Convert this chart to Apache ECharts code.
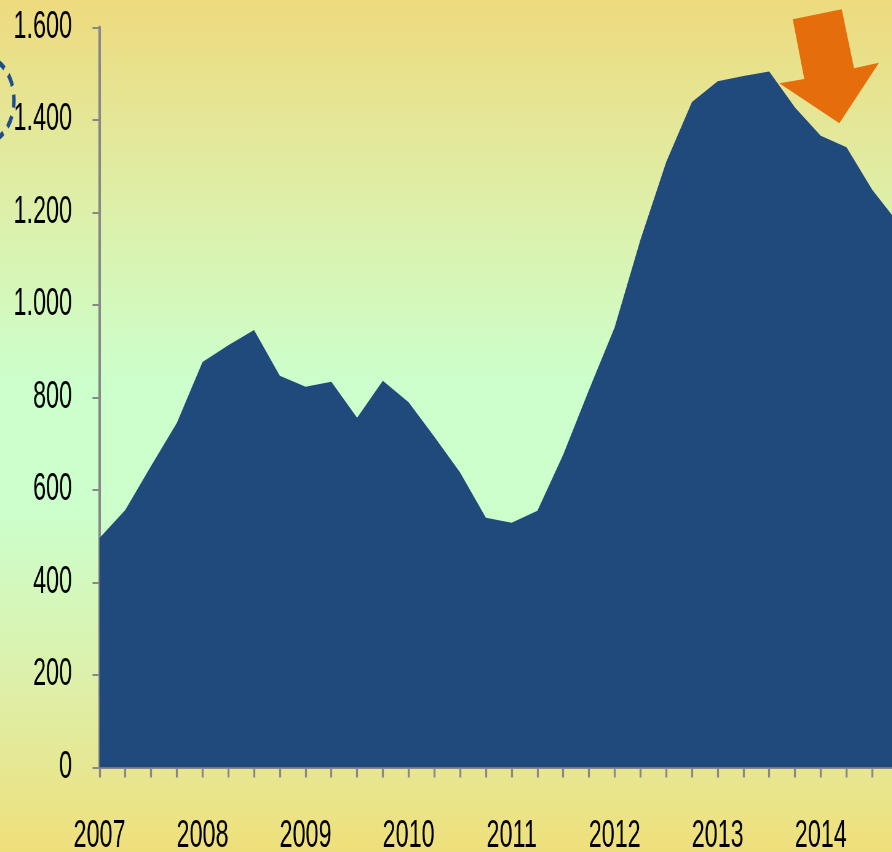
<!DOCTYPE html>
<html>
<head>
<meta charset="utf-8">
<script src="https://cdn.jsdelivr.net/npm/echarts@6/dist/echarts.min.js"></script>
<style>
html,body{margin:0;padding:0;width:892px;height:852px;overflow:hidden;}
body{background:linear-gradient(to bottom,#EEDA7E 0%,#DDF0AA 25%,#CCFFCC 45%,#CCFFCC 60%,#DDF0AA 80%,#EFDF7A 100%);}
/* the original chart uses a tall, narrow typeface: draw wider and squeeze horizontally */
#c{width:1451px;height:852px;transform:scaleX(0.615);transform-origin:0 0;}
</style>
</head>
<body>
<div id="c"></div>
<script>
// Quarterly categories 2007 Q1 .. 2014 Q4
var years = ['2007','2008','2009','2010','2011','2012','2013','2014'];
var quarters = [];
years.forEach(function(y){ for (var q=1;q<=4;q++) quarters.push(y+' T'+q); });
var values = [496,557,652,745,877,913,946,847,823,834,756,836,790,715,638,540,
              529,555,676,816,952,1141,1309,1439,1484,1495,1505,1427,1366,1341,1249,1178];
var yTicks = [0,200,400,600,800,1000,1200,1400,1600];

var SX = 0.615; // horizontal squeeze applied by CSS
var chart = echarts.init(document.getElementById('c'), null, {renderer:'canvas'});
var fontFam = '"Liberation Sans",Arial,sans-serif';
chart.setOption({
  backgroundColor: 'transparent',
  animation: false,
  grid: {left: 99.5/SX, top: 27.5, width: 798.5/SX, height: 740, containLabel: false, outerBoundsMode: 'none'},
  xAxis: {
    type: 'category',
    data: quarters,
    boundaryGap: false,
    axisLine: {lineStyle: {color: '#888888', width: 3}},
    axisTick: {show: true, interval: 0, length: 10, lineStyle: {color: '#888888', width: 2/SX}},
    axisLabel: {
      interval: 0, margin: 50, color: '#000', fontSize: 38, fontFamily: fontFam,
      formatter: function(v){ return /T1$/.test(v) ? v.slice(0,4) : ''; }
    },
    splitLine: {show: false}
  },
  yAxis: {
    type: 'value',
    min: yTicks[0], max: yTicks[yTicks.length-1], interval: 200,
    axisLine: {show: true, lineStyle: {color: '#888888', width: 2.5/SX}},
    axisTick: {show: true, length: 7/SX, lineStyle: {color: '#888888', width: 2}},
    axisLabel: {
      margin: 27.5/SX, color: '#000', fontSize: 38, fontFamily: fontFam,
      formatter: function(v){ return v >= 1000 ? Math.floor(v/1000) + '.' + String(v%1000).padStart(3,'0') : String(v); }
    },
    splitLine: {show: false}
  },
  series: [{
    type: 'line',
    data: values,
    symbol: 'none',
    lineStyle: {width: 0, color: '#20497C'},
    areaStyle: {color: '#20497C', opacity: 1},
    z: 1
  }],
  graphic: [
    {
      type: 'polygon',
      shape: {points: [[792.7,19.3],[841.7,9.3],[854,68.3],[879,62.7],[839.3,123.3],[779.3,83.3],[804.3,79]].map(function(p){return [p[0]/SX,p[1]];})},
      style: {fill: '#E56D0B'},
      z: 10
    },
    {
      type: 'ellipse',
      shape: {cx: -14/SX, cy: 100, rx: 28/SX, ry: 42},
      style: {fill: 'none', stroke: '#1F4E8C', lineWidth: 5.5, lineDash: [13, 9]},
      z: 10
    }
  ]
});
</script>
</body>
</html>
